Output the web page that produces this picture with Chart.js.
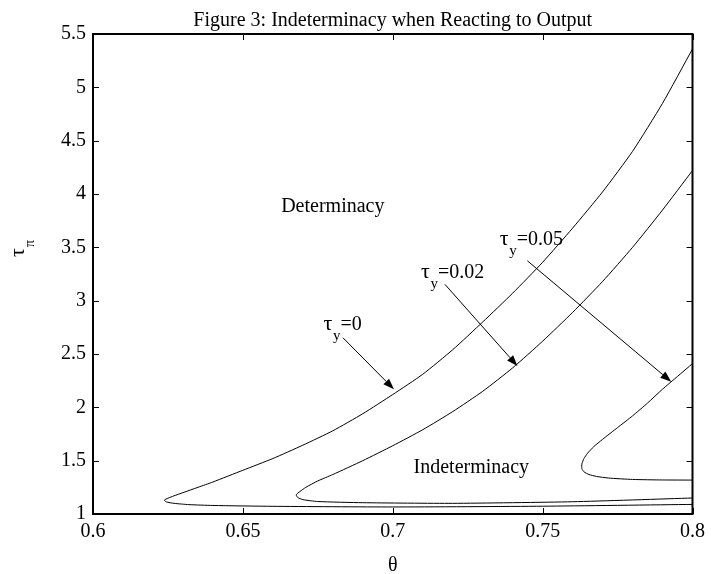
<!DOCTYPE html>
<html>
<head>
<meta charset="utf-8">
<title>Figure 3</title>
<script src="https://cdn.jsdelivr.net/npm/chart.js@4.4.1/dist/chart.umd.min.js"></script>
<style>
  html, body { margin: 0; padding: 0; background: #fff; }
  #wrap { width: 711px; height: 574px; }
</style>
</head>
<body>
<div id="wrap"><canvas id="chart" width="711" height="574"></canvas></div>
<script>
// Axis ticks.
const xTicks = [0.6, 0.65, 0.7, 0.75, 0.8];
const yTicks = [1, 1.5, 2, 2.5, 3, 3.5, 4, 4.5, 5, 5.5];

// tau_y = 0 boundary (upper branch, nose, lower branch).
const theta0 = [0.8, 0.79, 0.78, 0.77, 0.76, 0.75, 0.74, 0.73, 0.72, 0.71, 0.70, 0.69, 0.68, 0.67, 0.66, 0.65, 0.64, 0.635, 0.63, 0.627, 0.625, 0.6238, 0.6245, 0.627, 0.632, 0.64, 0.66, 0.70, 0.75, 0.8];
const tau0 = [5.36, 4.85, 4.40, 4.02, 3.68, 3.36, 3.07, 2.80, 2.54, 2.31, 2.12, 1.94, 1.78, 1.645, 1.52, 1.41, 1.30, 1.25, 1.20, 1.17, 1.148, 1.13, 1.113, 1.10, 1.088, 1.08, 1.072, 1.066, 1.073, 1.09];

// tau_y = 0.02 boundary.
const theta2 = [0.8, 0.79, 0.78, 0.77, 0.76, 0.75, 0.74, 0.73, 0.72, 0.71, 0.70, 0.69, 0.68, 0.675, 0.671, 0.669, 0.6678, 0.6683, 0.67, 0.675, 0.69, 0.72, 0.76, 0.8];
const tau2 = [4.22, 3.85, 3.50, 3.18, 2.89, 2.62, 2.37, 2.15, 1.96, 1.79, 1.64, 1.50, 1.37, 1.31, 1.25, 1.21, 1.18, 1.155, 1.135, 1.117, 1.106, 1.10, 1.115, 1.15];

// tau_y = 0.05 boundary.
const theta5 = [0.8, 0.795, 0.79, 0.785, 0.78, 0.775, 0.77, 0.767, 0.765, 0.7638, 0.7631, 0.7631, 0.7638, 0.7655, 0.768, 0.772, 0.78, 0.79, 0.8];
const tau5 = [2.41, 2.29, 2.17, 2.04, 1.92, 1.81, 1.70, 1.63, 1.57, 1.52, 1.47, 1.425, 1.395, 1.37, 1.352, 1.337, 1.324, 1.319, 1.318];

// Curve labels and their arrows (data coordinates).
const labelText = ['=0', '=0.02', '=0.05'];
const labelTheta = [0.6769, 0.7094, 0.7357];
const labelTau = [2.724, 3.21, 3.52];
const arrowFromTheta = [0.6834, 0.7174, 0.7449];
const arrowFromTau = [2.652, 3.153, 3.374];
const arrowToTheta = [0.7004, 0.7416, 0.7929];
const arrowToTau = [2.169, 2.387, 2.24];

// Region labels.
const regionText = ['Determinacy', 'Indeterminacy'];
const regionTheta = [0.68, 0.7262];
const regionTau = [3.88, 1.431];

const SERIF = '"Liberation Serif", "Times New Roman", serif';

const toPoints = (xs, ys) => xs.map((v, i) => ({ x: v, y: ys[i] }));

const lineSet = (xs, ys) => ({
  data: toPoints(xs, ys),
  showLine: true,
  borderColor: '#000',
  borderWidth: 1,
  pointRadius: 0,
  tension: 0.2,
  fill: false
});

const drawArrow = (ctx, x1, y1, x2, y2) => {
  const ang = Math.atan2(y2 - y1, x2 - x1);
  const len = 11;
  const half = 4;
  const bx = x2 - len * Math.cos(ang);
  const by = y2 - len * Math.sin(ang);
  ctx.beginPath();
  ctx.moveTo(x1, y1);
  ctx.lineTo(bx, by);
  ctx.stroke();
  ctx.beginPath();
  ctx.moveTo(x2, y2);
  ctx.lineTo(bx + half * Math.sin(ang), by - half * Math.cos(ang));
  ctx.lineTo(bx - half * Math.sin(ang), by + half * Math.cos(ang));
  ctx.closePath();
  ctx.fill();
};

const overlay = {
  id: 'overlay',
  afterDraw(chart) {
    const { ctx, chartArea: a, scales: { x, y } } = chart;
    ctx.save();
    ctx.strokeStyle = '#000';
    ctx.fillStyle = '#000';

    // Frame.
    ctx.lineWidth = 2;
    ctx.strokeRect(a.left, a.top, a.right - a.left, a.bottom - a.top);

    // Inward ticks on all four sides.
    ctx.lineWidth = 1;
    ctx.beginPath();
    xTicks.forEach((v) => {
      const px = Math.round(x.getPixelForValue(v)) + 0.5;
      ctx.moveTo(px, a.bottom);
      ctx.lineTo(px, a.bottom - 6);
      ctx.moveTo(px, a.top);
      ctx.lineTo(px, a.top + 6);
    });
    yTicks.forEach((v) => {
      const py = Math.round(y.getPixelForValue(v)) + 0.5;
      ctx.moveTo(a.left, py);
      ctx.lineTo(a.left + 6, py);
      ctx.moveTo(a.right, py);
      ctx.lineTo(a.right - 6, py);
    });
    ctx.stroke();

    // Arrows.
    arrowFromTheta.forEach((v, i) => {
      drawArrow(ctx,
        x.getPixelForValue(v), y.getPixelForValue(arrowFromTau[i]),
        x.getPixelForValue(arrowToTheta[i]), y.getPixelForValue(arrowToTau[i]));
    });

    // Curve labels: tau with subscript y.
    ctx.textBaseline = 'alphabetic';
    ctx.textAlign = 'left';
    labelText.forEach((t, i) => {
      const px = x.getPixelForValue(labelTheta[i]);
      const py = y.getPixelForValue(labelTau[i]);
      ctx.font = '22px ' + SERIF;
      ctx.fillText('τ', px, py);
      ctx.font = '15px ' + SERIF;
      ctx.fillText('y', px + 9.5, py + 10);
      ctx.font = '20px ' + SERIF;
      ctx.fillText(t, px + 17, py);
    });

    // Region labels.
    ctx.font = '20px ' + SERIF;
    ctx.textAlign = 'center';
    ctx.textBaseline = 'middle';
    regionText.forEach((t, i) => {
      ctx.fillText(t, x.getPixelForValue(regionTheta[i]), y.getPixelForValue(regionTau[i]));
    });

    // Title and axis titles.
    const cx = (a.left + a.right) / 2;
    ctx.textBaseline = 'alphabetic';
    ctx.fillText('Figure 3: Indeterminacy when Reacting to Output', cx, 26);
    ctx.fillText('θ', cx, 571);

    ctx.translate(24, 257);
    ctx.rotate(-Math.PI / 2);
    ctx.textAlign = 'left';
    ctx.font = '22px ' + SERIF;
    ctx.fillText('τ', 0, 0);
    ctx.font = '14px ' + SERIF;
    ctx.fillText('π', 10, 10);
    ctx.restore();
  }
};

new Chart(document.getElementById('chart'), {
  type: 'scatter',
  data: {
    datasets: [lineSet(theta0, tau0), lineSet(theta2, tau2), lineSet(theta5, tau5)]
  },
  options: {
    responsive: false,
    animation: false,
    layout: { padding: { top: 34, right: 11, left: 0, bottom: 0 } },
    plugins: {
      legend: { display: false },
      tooltip: { enabled: false },
      title: { display: false }
    },
    scales: {
      x: {
        type: 'linear',
        min: 0.6,
        max: 0.8,
        afterBuildTicks: (s) => { s.ticks = xTicks.map((v) => ({ value: v })); },
        afterFit: (s) => { s.height = 60; },
        grid: { display: false, drawTicks: false },
        border: { display: false },
        ticks: {
          color: '#000',
          padding: 6,
          maxRotation: 0,
          font: { family: SERIF, size: 20 },
          callback: (v) => String(Number(v.toFixed(2)))
        }
      },
      y: {
        type: 'linear',
        min: 1,
        max: 5.5,
        afterBuildTicks: (s) => { s.ticks = yTicks.map((v) => ({ value: v })); },
        afterFit: (s) => { s.width = 93; },
        grid: { display: false, drawTicks: false },
        border: { display: false },
        ticks: {
          color: '#000',
          padding: 7,
          font: { family: SERIF, size: 20 },
          callback: (v) => String(Number(v.toFixed(1)))
        }
      }
    }
  },
  plugins: [overlay]
});
</script>
</body>
</html>
